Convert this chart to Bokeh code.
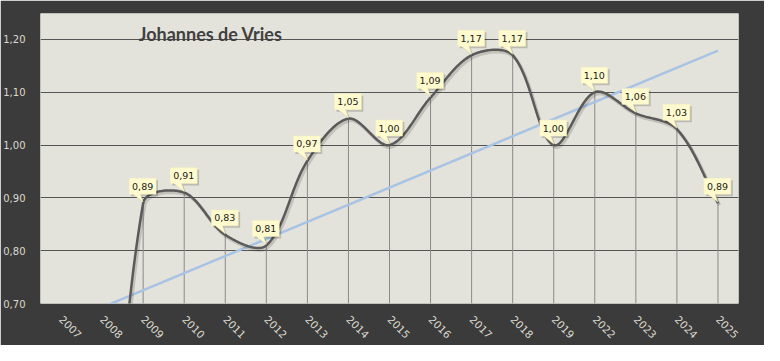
import numpy as np
from bokeh.plotting import figure
from bokeh.models import FactorRange, Range1d, FixedTicker, CustomJSTickFormatter, Label
from bokeh.core.properties import value
from bokeh.embed import file_html
from bokeh.resources import INLINE

# ---------------- data ----------------
years = ["2007", "2008", "2009", "2010", "2011", "2012", "2013", "2014", "2015",
         "2016", "2017", "2018", "2019", "2022", "2023", "2024", "2025"]
scores = [None, 0.00, 0.89, 0.91, 0.83, 0.81, 0.97, 1.05, 1.00,
          1.09, 1.17, 1.17, 1.00, 1.10, 1.06, 1.03, 0.89]
y_ticks = [0.70, 0.80, 0.90, 1.00, 1.10, 1.20]
title_text = "Johannes de Vries"

# ---------------- layout ----------------
W, H = 764, 345
FRAME_L, FRAME_R, FRAME_T, FRAME_B = 35, 26, 13, 41
frame_w = W - FRAME_L - FRAME_R
frame_h = H - FRAME_T - FRAME_B
y_min = y_ticks[0]
y_max = 1.249
n = len(years)
PX_X = frame_w / n                 # pixels per category
PX_Y = frame_h / (y_max - y_min)   # pixels per value unit

BG_DARK = "#3b3b3b"
PLOT_BG = "#e4e3db"

p = figure(width=W, height=H, x_range=FactorRange(*years), y_range=Range1d(y_min, y_max),
           output_backend="svg", toolbar_location=None,
           min_border_left=FRAME_L, min_border_right=FRAME_R,
           min_border_top=FRAME_T, min_border_bottom=FRAME_B)
p.background_fill_color = PLOT_BG
p.border_fill_color = BG_DARK
p.outline_line_color = None

# axes
p.yaxis.ticker = FixedTicker(ticks=y_ticks)
p.yaxis.formatter = CustomJSTickFormatter(code="return tick.toFixed(2).replace('.', ',');")
for ax in (p.xaxis, p.yaxis):
    ax.axis_line_color = None
    ax.major_tick_line_color = None
    ax.minor_tick_line_color = None
    ax.major_label_text_color = "#dcd9cd"
    ax.major_label_text_font = "DejaVu Sans"
p.yaxis.major_label_text_font_size = "10px"
p.yaxis.major_label_standoff = 9
p.xaxis.major_label_text_font_size = "10.5px"
p.xaxis.major_label_orientation = -np.pi / 4
p.xaxis.major_label_standoff = 8

p.xgrid.grid_line_color = None
p.ygrid.ticker = FixedTicker(ticks=y_ticks[1:])
p.ygrid.grid_line_color = "#555555"
p.ygrid.grid_line_width = 1.2

# ---------------- derived geometry ----------------
idx = [i for i, v in enumerate(scores) if v is not None]
vals = [scores[i] for i in idx]
cx = [i + 0.5 for i in idx]  # synthetic category centres

# smooth curve (chord-length weighted bezier in pixel space)
P = np.array([[i * PX_X, v * PX_Y] for i, v in zip(idx, vals)])
m = len(P)
s = 1.0 / 3.0
out_c, in_c = [None] * m, [None] * m
for k in range(m):
    if k == 0:
        out_c[k] = P[0] + (P[1] - P[0]) * s
    elif k == m - 1:
        in_c[k] = P[k] - (P[k] - P[k - 1]) * s
    else:
        T = P[k + 1] - P[k - 1]
        dp = np.linalg.norm(P[k] - P[k - 1])
        dn = np.linalg.norm(P[k + 1] - P[k])
        out_c[k] = P[k] + T * s * dn / (dp + dn)
        in_c[k] = P[k] - T * s * dp / (dp + dn)
curve = []
t = np.linspace(0, 1, 40)[:, None]
for k in range(m - 1):
    b = ((1 - t) ** 3) * P[k] + 3 * ((1 - t) ** 2) * t * out_c[k] + 3 * (1 - t) * t ** 2 * in_c[k + 1] + t ** 3 * P[k + 1]
    curve.append(b if k == 0 else b[1:])
curve = np.vstack(curve)
curve_x = curve[:, 0] / PX_X + 0.5
curve_y = curve[:, 1] / PX_Y

# linear trend
coef = np.polyfit(idx, vals, 1)
tr_x = [cx[0], cx[-1]]
tr_y = [coef[0] * idx[0] + coef[1], coef[0] * idx[-1] + coef[1]]

# drop lines
vis = [(c, v) for c, v in zip(cx, vals) if v >= y_min]
p.segment(x0=[c for c, v in vis], y0=[y_min] * len(vis), x1=[c for c, v in vis], y1=[v for c, v in vis],
          line_color="#8a8a8a", line_width=1)

# trend
p.line(tr_x, tr_y, line_color="#a8c3e3", line_width=2.5)

# series shadow + line
p.line(curve_x + 1.5 / PX_X, curve_y - 2.0 / PX_Y, line_color="#000000", line_alpha=0.15, line_width=3.5)
p.line(curve_x, curve_y, line_color="#5a5a5a", line_width=2.5)

# callouts
def callout(xc, yv, dx=0.0, dy=0.0):
    L = xc + (-14 + dx) / PX_X
    R = xc + (13 + dx) / PX_X
    B = yv + (9 - dy) / PX_Y
    T_ = yv + (25 - dy) / PX_Y
    px = [L, xc + (-10 + dx) / PX_X, xc + dx / PX_X, xc + (-3 + dx) / PX_X, R, R, L]
    py = [B, B, yv + (1 - dy) / PX_Y, B, B, T_, T_]
    return px, py

shadow_xs, shadow_ys, box_xs, box_ys, tx, ty, tt = [], [], [], [], [], [], []
for c, v in vis:
    sx, sy = callout(c, v, 2, 2)
    shadow_xs.append(sx); shadow_ys.append(sy)
    bx, by = callout(c, v)
    box_xs.append(bx); box_ys.append(by)
    tx.append(c - 0.5 / PX_X)
    ty.append(v + 17 / PX_Y)
    tt.append(f"{v:.2f}".replace(".", ","))

p.patches(shadow_xs, shadow_ys, fill_color="#000000", fill_alpha=0.18, line_color=None)
p.patches(box_xs, box_ys, fill_color="#fffbce", line_color="#f2eeb8", line_width=0.5)
p.text(tx, ty, text=tt, text_align="center", text_baseline="middle",
       text_font=value("DejaVu Sans"), text_font_size="9.5px", text_color="#1a1a1a")

# title
p.add_layout(Label(x=99 / PX_X, y=y_max - 21 / PX_Y, text=title_text, text_font="Lato",
                   text_font_style="bold", text_font_size="18px", text_color="#404040",
                   text_baseline="alphabetic"))

html = file_html(p, INLINE, title=title_text)
html = html.replace("<body", '<body style="background-color:%s"' % BG_DARK, 1)
open("out.html", "w").write(html)
